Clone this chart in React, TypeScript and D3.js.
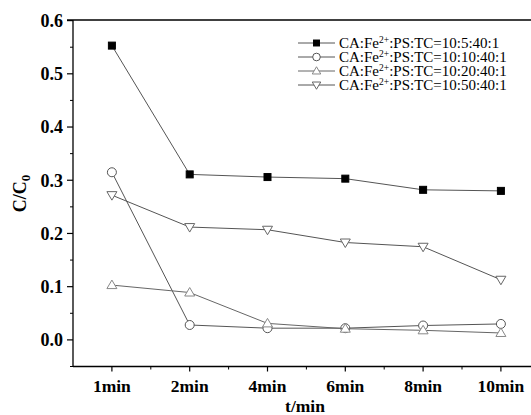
import React from "react";
import * as d3 from "d3";

const categories = ["1min", "2min", "4min", "6min", "8min", "10min"];
const seriesNames = ["10:5:40:1", "10:10:40:1", "10:20:40:1", "10:50:40:1"];
const s1 = [0.553, 0.311, 0.306, 0.303, 0.282, 0.28];
const s2 = [0.315, 0.028, 0.022, 0.022, 0.027, 0.03];
const s3 = [0.103, 0.089, 0.031, 0.021, 0.018, 0.013];
const s4 = [0.272, 0.212, 0.207, 0.183, 0.175, 0.113];
const yTicks = [0, 0.1, 0.2, 0.3, 0.4, 0.5, 0.6];

const W = 531, H = 415;
const left = 73, top = 20, bottom = 366.5;
const font = "Liberation Serif, Times New Roman, Times, serif";

export default function App() {
  const x = d3.scaleLinear().domain([-0.5, 5.5]).range([left, left + 6 * 77.8]);
  const y = d3.scaleLinear().domain([-0.05, 0.6]).range([bottom, 20.6]);
  const data = [s1, s2, s3, s4];
  const styles = [
    { line: "#555", stroke: "#000", fill: "#000", shape: "square" },
    { line: "#555", stroke: "#555", fill: "#fff", shape: "circle" },
    { line: "#666", stroke: "#888", fill: "#fff", shape: "up" },
    { line: "#555", stroke: "#666", fill: "#fff", shape: "down" },
  ];
  const line = d3.line<number>().x((_, i) => x(i)).y((d) => y(d));
  const marker = (shape: string, cx: number, cy: number, st: any, key: any, sc = 1) => {
    if (shape === "square")
      return <rect key={key} x={cx - 3.5 * sc} y={cy - 3.5 * sc} width={7 * sc} height={7 * sc} fill={st.fill} stroke={st.stroke} />;
    if (shape === "circle")
      return <circle key={key} cx={cx} cy={cy} r={4.5 * sc} fill={st.fill} stroke={st.stroke} strokeWidth={1} />;
    const s = 5 * sc;
    const pts =
      shape === "up"
        ? [[cx, cy - s], [cx + s, cy + s * 0.7], [cx - s, cy + s * 0.7]]
        : [[cx, cy + s], [cx + s, cy - s * 0.7], [cx - s, cy - s * 0.7]];
    return <polygon key={key} points={pts.map((p) => p.join(",")).join(" ")} fill={st.fill} stroke={st.stroke} strokeWidth={1} />;
  };
  const minorY = d3.range(-0.05, 0.6, 0.1).map((v) => +v.toFixed(2));
  const ts = { fontFamily: font };
  return (
    <svg width={W} height={H} style={{ position: "absolute", left: 0, top: 0, background: "#fff", fontFamily: font }}>
      <line x1={67} x2={W} y1={top} y2={top} stroke="#000" strokeWidth={1.3} />
      <line x1={left} x2={left} y1={top} y2={bottom} stroke="#000" strokeWidth={1.3} />
      <line x1={left} x2={W} y1={bottom} y2={bottom} stroke="#000" strokeWidth={1.3} />
      {yTicks.map((t) => (
        <g key={t}>
          <line x1={left - 6} x2={left} y1={y(t)} y2={y(t)} stroke="#000" strokeWidth={1.2} />
          <text x={63} y={y(t)} dy="0.35em" textAnchor="end" fontSize={18} fontWeight="bold" style={ts}>
            {t.toFixed(1)}
          </text>
        </g>
      ))}
      {minorY.map((t) => (
        <line key={"m" + t} x1={left - 3} x2={left} y1={y(t)} y2={y(t)} stroke="#000" strokeWidth={1} />
      ))}
      {categories.map((c, i) => (
        <g key={c}>
          <line x1={x(i)} x2={x(i)} y1={bottom} y2={bottom + 5} stroke="#000" strokeWidth={1.2} />
          <line x1={x(i) + 38.9} x2={x(i) + 38.9} y1={bottom} y2={bottom + 3} stroke="#000" strokeWidth={1} />
          <text x={x(i)} y={392} textAnchor="middle" fontSize={17.5} fontWeight="bold" style={ts}>
            {c}
          </text>
        </g>
      ))}
      <text x={305} y={412} textAnchor="middle" fontSize={17.5} fontWeight="bold" style={ts}>t/min</text>
      <text transform={`translate(26,${y(0.275)}) rotate(-90)`} textAnchor="middle" fontSize={18} fontWeight="bold" style={ts}>
        C/C<tspan dy="4" fontSize={13}>0</tspan>
      </text>
      {data.map((d, k) => (
        <g key={k}>
          <path d={line(d) as string} fill="none" stroke={styles[k].line} strokeWidth={1} />
          {d.map((v, i) => marker(styles[k].shape, x(i), y(v), styles[k], i))}
        </g>
      ))}
      {seriesNames.map((n, k) => {
        const ly = 43 + k * 14;
        return (
          <g key={n}>
            <line x1={298} x2={335} y1={ly} y2={ly} stroke={styles[k].line} strokeWidth={1} />
            {marker(styles[k].shape, 316.5, ly, styles[k], "lm", 0.85)}
            <text x={339} y={ly} dy="0.35em" fontSize={15} style={ts}>
              CA:Fe<tspan dy="-5" fontSize={9.5}>2+</tspan>
              <tspan dy="5">:PS:TC={n}</tspan>
            </text>
          </g>
        );
      })}
    </svg>
  );
}
